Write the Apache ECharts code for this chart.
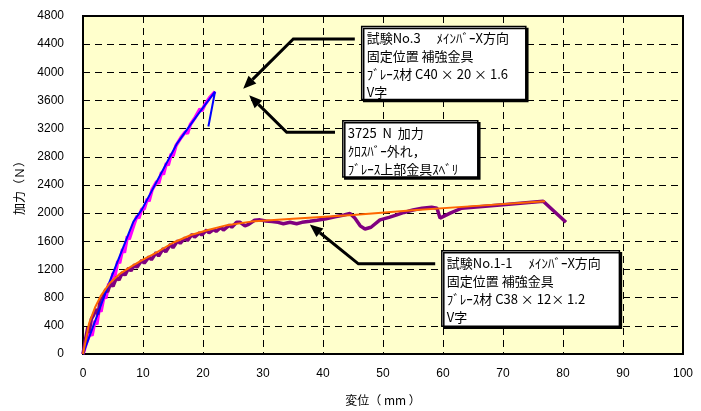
<!DOCTYPE html>
<html><head><meta charset="utf-8">
<script src="https://cdn.jsdelivr.net/npm/echarts@6/dist/echarts.min.js"></script>
<style>html,body{margin:0;padding:0;background:#fff}#c{width:701px;height:411px}</style>
</head><body><div id="c"></div>
<script>
// ---- data ----
const xTicks = [0,10,20,30,40,50,60,70,80,90,100];
const yTicks = [0,400,800,1200,1600,2000,2400,2800,3200,3600,4000,4400,4800];

// 試験No.3 raw (magenta)
const no3Raw = [[0,0],[0.5,140],[0.8,120],[1.2,300],[1.5,260],[2.0,470],[2.3,420],[2.7,640],[3.0,600],[3.5,820],[3.8,790],[4.3,1000],[4.6,960],[5.0,1150],[5.3,1100],[5.8,1320],[6.1,1290],[6.6,1490],[6.9,1440],[7.4,1670],[7.7,1630],[8.2,1760],[8.5,1840],[9.0,1960],[9.3,1930],[9.8,2060],[10.2,2060],[10.7,2200],[11.0,2170],[11.5,2330],[11.8,2310],[12.3,2450],[12.6,2420],[13.1,2580],[13.4,2550],[13.9,2710],[14.2,2680],[14.7,2840],[15.0,2810],[15.5,2960],[15.8,2950],[16.3,3070],[16.6,3050],[17.1,3160],[17.4,3130],[17.9,3260],[18.2,3240],[18.7,3360],[19.0,3340],[19.5,3480],[19.8,3450],[20.3,3540],[20.6,3520],[21.1,3640],[21.4,3620],[21.9,3715],[22.0,3725]];
// 試験No.3 envelope (blue)
const no3Line = [[0,0],[4.4,1020],[8.4,1880],[9.8,2050],[15.6,2980],[18.7,3350],[22.0,3725],[20.9,3230]];
// 試験No.1-1 raw (purple)
const no11Raw = [[0,0],[0.4,200],[0.8,380],[1.0,300],[1.4,500],[1.8,560],[2.2,640],[2.5,560],[2.9,780],[3.3,800],[3.8,920],[4.1,880],[4.6,1010],[5.0,960],[5.6,1090],[6.0,1050],[6.6,1160],[7.0,1120],[7.6,1220],[8.0,1180],[8.6,1270],[9.0,1230],[9.8,1330],[10.2,1290],[11.0,1380],[11.4,1340],[12.2,1440],[12.6,1390],[13.4,1500],[13.8,1450],[14.6,1560],[15.0,1510],[15.8,1610],[16.2,1570],[17.0,1650],[17.4,1610],[18.2,1700],[18.6,1660],[19.4,1720],[19.8,1690],[20.6,1760],[21.0,1720],[21.8,1770],[22.2,1740],[23.0,1800],[23.4,1760],[24.4,1830],[24.8,1800],[25.6,1870],[26.2,1870],[27.0,1820],[27.6,1840],[28.6,1900],[29.5,1905],[30.5,1890],[31.5,1880],[32.5,1870],[33.4,1850],[34.5,1870],[35.6,1850],[36.5,1870],[37.8,1885],[39.0,1900],[40.5,1920],[42.0,1950],[43.5,1975],[44.5,1995],[45.3,1930],[46.2,1820],[47.0,1775],[48.0,1800],[49.5,1905],[51.0,1940],[52.3,1975],[53.5,2010],[55.0,2045],[56.5,2070],[58.1,2085],[59.0,2070],[59.5,1930],[61.2,2000],[63.1,2070],[70.0,2120],[76.7,2170],[80.5,1870]];
// 試験No.1-1 envelope (orange)
const no11Line = [[0,0],[1,430],[2,660],[3,830],[4.4,1000],[6,1130],[8,1240],[10,1340],[12,1430],[15,1580],[18,1690],[21,1765],[24,1830],[28,1880],[35,1920],[45,1975],[55,2040],[65,2100],[77,2170]];

const xName = "変位（ mm ）";
const yName = "加力（Ｎ）";

// annotations (data coordinates)
const notes = [
  { box:[[46.45,4651],[73.8,3614]], lines:["試験No.3　 ﾒｲﾝﾊﾞｰX方向","固定位置 補強金具","ﾌﾞﾚｰｽ材 C40 × 20 × 1.6","V字"],
    arrow:[[45.3,4475],[35.05,4475],[26.7,3767]] },
  { box:[[43.3,3311],[65.8,2512]], lines:["3725  N  加力","ｸﾛｽﾊﾞｰ外れ，","ﾌﾞﾚｰｽ上部金具ｽﾍﾞﾘ"],
    arrow:[[42.0,3149],[33.95,3149],[27.7,3674]] },
  { box:[[59.8,1465],[89.4,395]], lines:["試験No.1-1　 ﾒｲﾝﾊﾞｰX方向","固定位置 補強金具","ﾌﾞﾚｰｽ材 C38 × 12× 1.2","V字"],
    arrow:[[58.7,1280],[45.9,1280],[37.8,1838]] }
];

const chart = echarts.init(document.getElementById('c'), null, {renderer:'canvas'});
const latin = "'Liberation Sans', Arial, sans-serif";
const jp = "'Noto Sans CJK JP', sans-serif";
const option = {
  animation:false,
  backgroundColor:'#ffffff',
  grid:{left:83,right:18,top:16,bottom:51,show:true,backgroundColor:'#FFFFCC',borderColor:'#000',borderWidth:2},
  xAxis:{type:'value',min:xTicks[0],max:xTicks[xTicks.length-1],interval:10,
    name:xName,nameLocation:'middle',nameGap:40,nameTextStyle:{fontFamily:jp,fontSize:12,color:'#000'},
    axisLine:{lineStyle:{color:'#000',width:2}},axisTick:{show:false},
    axisLabel:{margin:14,fontFamily:latin,fontSize:12,color:'#000',formatter:v=>String(v)},
    splitLine:{show:true,lineStyle:{color:'#000',type:[7,5],width:1}}},
  yAxis:{type:'value',min:yTicks[0],max:yTicks[yTicks.length-1],interval:400,
    name:yName,nameLocation:'middle',nameGap:58,nameRotate:90,nameTextStyle:{fontFamily:jp,fontSize:12,color:'#000'},
    axisLine:{show:true,lineStyle:{color:'#000',width:2}},axisTick:{show:false},
    axisLabel:{margin:19,fontFamily:latin,fontSize:12,color:'#000',formatter:v=>String(v)},
    splitLine:{show:true,lineStyle:{color:'#000',type:[7,5],width:1}}},
  series:[
    {type:'line',data:no3Raw,showSymbol:false,lineStyle:{color:'#FF00FF',width:3.5},z:2},
    {type:'line',data:no11Raw,showSymbol:false,lineStyle:{color:'#800080',width:3.5},z:3},
    {type:'line',data:no3Line,showSymbol:false,lineStyle:{color:'#0000FF',width:2},z:4},
    {type:'line',data:no11Line,showSymbol:false,lineStyle:{color:'#FF6600',width:2},z:5}
  ]
};
chart.setOption(option);

const P = p => chart.convertToPixel({gridIndex:0}, p);
const graphics = [];
notes.forEach(n => {
  const a = P(n.box[0]), b = P(n.box[1]);
  graphics.push({type:'rect',shape:{x:a[0],y:a[1],width:b[0]-a[0],height:b[1]-a[1]},
    style:{fill:'#fff',stroke:'#000',lineWidth:1.5,shadowColor:'#000',shadowOffsetX:2,shadowOffsetY:2,shadowBlur:0},z:100});
  graphics.push({type:'text',x:a[0]+5,y:a[1]+3,style:{text:n.lines.join('\n'),font:"13px 'Noto Sans CJK JP', sans-serif",fill:'#000',lineHeight:18},z:101});
  const pts = n.arrow.map(P);
  const tip = pts[2], prev = pts[1];
  const dx = tip[0]-prev[0], dy = tip[1]-prev[1], L = Math.hypot(dx,dy);
  const ux = dx/L, uy = dy/L, hl = 13, hw = 5.5;
  const base = [tip[0]-ux*hl, tip[1]-uy*hl];
  graphics.push({type:'polyline',shape:{points:[pts[0],pts[1],base]},style:{stroke:'#000',lineWidth:3,fill:null},z:99});
  graphics.push({type:'polygon',shape:{points:[tip,[base[0]-uy*hw,base[1]+ux*hw],[base[0]+uy*hw,base[1]-ux*hw]]},style:{fill:'#000'},z:99});
});
chart.setOption({graphic:graphics});
</script></body></html>
